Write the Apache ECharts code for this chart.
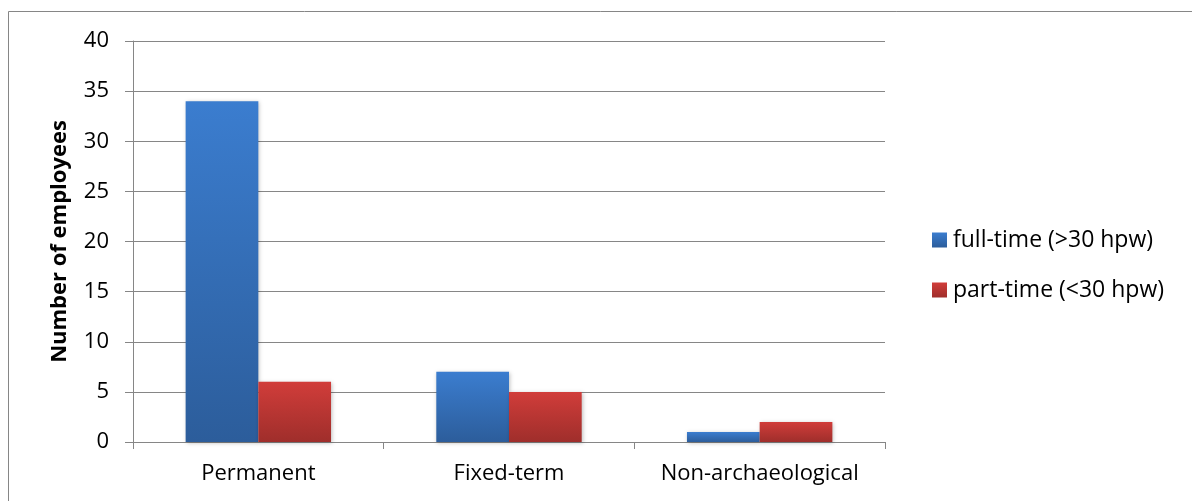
<!DOCTYPE html>
<html>
<head>
<meta charset="utf-8">
<script src="https://cdn.jsdelivr.net/npm/echarts@6/dist/echarts.min.js"></script>
<style>
  html, body { margin: 0; padding: 0; background: #fff; }
  #chart { width: 1192px; height: 501px; }
</style>
</head>
<body>
<div id="chart"></div>
<script>
// employees by contract type
const categories = ['Permanent', 'Fixed-term', 'Non-archaeological']
const seriesNames = ['full-time (>30 hpw)', 'part-time (<30 hpw)']
const fullTime = [34, 7, 1]
const partTime = [6, 5, 2]
const yTicks = { min: 0, max: 40, interval: 5 }

const FONT = '"Open Sans", "Noto Sans", sans-serif'

function grad(top, bottom) {
  return new echarts.graphic.LinearGradient(0, 0, 0, 1, [
    { offset: 0, color: top },
    { offset: 1, color: bottom },
  ])
}

const chart = echarts.init(document.getElementById('chart'))
chart.setOption({
  animation: false,
  graphic: [
    { type: 'line', shape: { x1: 8.5, y1: 11.5, x2: 1192, y2: 11.5 }, style: { stroke: '#868686', lineWidth: 1 } },
    { type: 'line', shape: { x1: 8.5, y1: 11.5, x2: 8.5, y2: 501 }, style: { stroke: '#868686', lineWidth: 1 } },
  ],
  legend: {
    orient: 'vertical',
    left: 927,
    top: 223,
    itemWidth: 15,
    itemHeight: 15,
    itemGap: 26,
    icon: 'rect',
    textStyle: { fontFamily: FONT, fontSize: 23, lineHeight: 24, color: '#000', padding: [0, 0, 0, 1] },
    data: seriesNames,
  },
  grid: { left: 133, right: 307, top: 41, bottom: 59 },
  xAxis: {
    type: 'category',
    data: categories,
    axisLine: { lineStyle: { color: '#868686' } },
    axisTick: { show: true, length: 7, lineStyle: { color: '#868686' } },
    axisLabel: { interval: 0, margin: 21, fontFamily: FONT, fontSize: 22, color: '#000' },
  },
  yAxis: {
    type: 'value',
    min: yTicks.min,
    max: yTicks.max,
    interval: yTicks.interval,
    name: 'Number of employees',
    nameLocation: 'middle',
    nameGap: 62,
    nameTextStyle: { fontFamily: FONT, fontSize: 22, fontWeight: 'bold', color: '#000' },
    axisLine: { show: true, lineStyle: { color: '#868686' } },
    axisTick: { show: true, length: 8, lineStyle: { color: '#868686' } },
    axisLabel: { margin: 24, fontFamily: FONT, fontSize: 22, color: '#000' },
    splitLine: { lineStyle: { color: '#868686' } },
  },
  series: [
    {
      name: seriesNames[0],
      type: 'bar',
      data: fullTime,
      barGap: '0%',
      barCategoryGap: '42%',
      itemStyle: {
        color: grad('#3b7dcf', '#2c5d9b'),
        shadowColor: 'rgba(0,0,0,0.25)',
        shadowBlur: 4,
        shadowOffsetX: 1,
        shadowOffsetY: 1,
      },
    },
    {
      name: seriesNames[1],
      type: 'bar',
      data: partTime,
      itemStyle: {
        color: grad('#d13d3a', '#9f2e2b'),
        shadowColor: 'rgba(0,0,0,0.25)',
        shadowBlur: 4,
        shadowOffsetX: 1,
        shadowOffsetY: 1,
      },
    },
  ],
})
</script>
</body>
</html>
